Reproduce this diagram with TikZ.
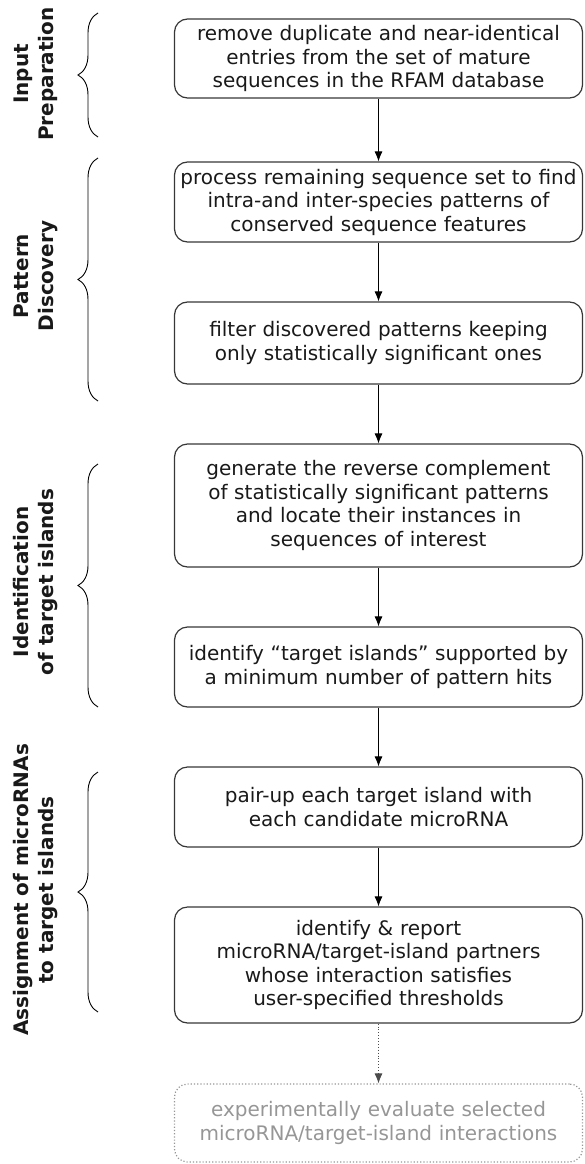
\documentclass[tikz,border=0pt]{standalone}
\usepackage{fontspec}
\setmainfont{DejaVu Sans}
\usetikzlibrary{arrows.meta,decorations.pathreplacing}
\definecolor{boxline}{RGB}{55,55,55}
\definecolor{textdark}{RGB}{25,25,25}
\definecolor{futuregray}{RGB}{150,150,150}

\tikzset{
  stepbox/.style={rectangle,rounded corners=13pt,draw=boxline,line width=1.2pt,
    text width=400pt,inner xsep=4pt,align=center,text=textdark,
    font=\fontsize{20}{23.5}\selectfont},
  laterbox/.style={stepbox,draw=futuregray,dotted,text=futuregray},
  phase/.style={rotate=90,align=center,text=textdark,
    font=\fontsize{20}{25}\selectfont\bfseries},
  phasebrace/.style={decorate,decoration={brace,amplitude=20pt},line width=0.9pt},
  flow/.style={-{Latex[length=10pt,width=8pt]},line width=0.9pt}
}

\begin{document}
\begin{tikzpicture}[x=1pt,y=-1pt]
  \useasboundingbox (0,0) rectangle (584,1164);

  % Pipeline steps
  \node[stepbox,minimum height=79pt] (remove) at (378.5,58.5)
    {remove duplicate and near-identical\\entries from the set of mature\\sequences in the RFAM database};
  \node[stepbox,minimum height=80pt] (process) at (378.5,202)
    {process remaining sequence set to find\\intra-and inter-species patterns of\\conserved sequence features};
  \node[stepbox,minimum height=82pt] (filter) at (378.5,343)
    {filter discovered patterns keeping\\only statistically significant ones};
  \node[stepbox,minimum height=123pt] (revcomp) at (378.5,505.5)
    {generate the reverse complement\\of statistically significant patterns\\and locate their instances in\\sequences of interest};
  \node[stepbox,minimum height=80pt] (islands) at (378.5,667)
    {identify “target islands” supported by\\a minimum number of pattern hits};
  \node[stepbox,minimum height=80pt] (pairup) at (378.5,807)
    {pair-up each target island with\\each candidate microRNA};
  \node[stepbox,minimum height=116pt] (report) at (378.5,965)
    {identify \& report\\microRNA/target-island partners\\whose interaction satisfies\\user-specified thresholds};
  \node[laterbox,minimum height=78pt] (evaluate) at (378.5,1123)
    {experimentally evaluate selected\\microRNA/target-island interactions};

  % Arrows between steps
  \draw[flow] (remove) -- (process);
  \draw[flow] (process) -- (filter);
  \draw[flow] (filter) -- (revcomp);
  \draw[flow] (revcomp) -- (islands);
  \draw[flow] (islands) -- (pairup);
  \draw[flow] (pairup) -- (report);
  \draw[flow,dotted,draw=black!70] (report) -- (evaluate);

  % Phase labels
  \node[phase] (inputlbl) at (36,74) {Input\\Preparation};
  \node[phase] (patternlbl) at (36,276) {Pattern\\Discovery};
  \node[phase] (identlbl) at (36,582) {Identification\\of target islands};
  \node[phase] (assignlbl) at (36,890) {Assignment of microRNAs\\to target islands};

  % Braces
  \draw[phasebrace] (98,137) -- (98,13);
  \draw[phasebrace] (98,401) -- (98,158);
  \draw[phasebrace] (98,707) -- (98,464);
  \draw[phasebrace] (98,1012) -- (98,772);
\end{tikzpicture}
\end{document}
